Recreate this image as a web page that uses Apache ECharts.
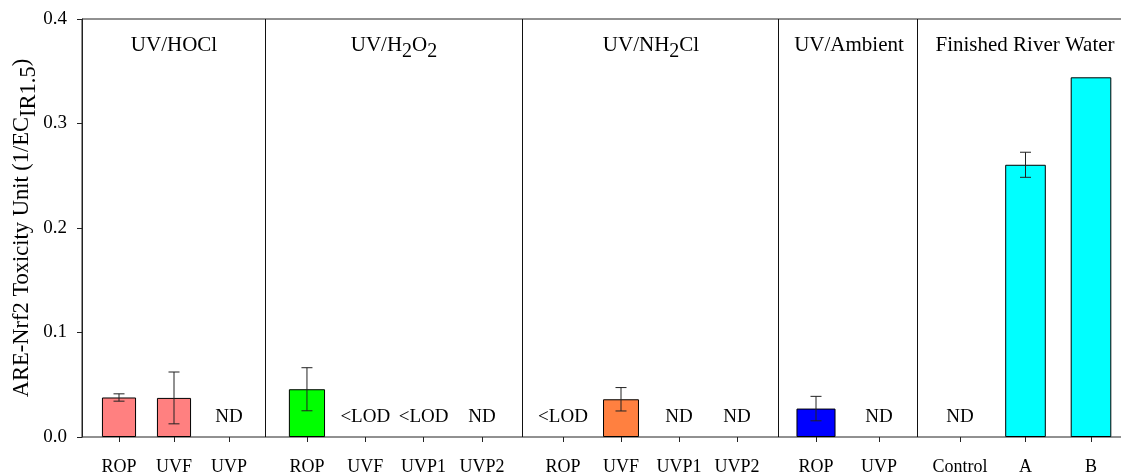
<!DOCTYPE html>
<html>
<head>
<meta charset="utf-8">
<script src="https://cdn.jsdelivr.net/npm/echarts@6/dist/echarts.min.js"></script>
<style>
html,body{margin:0;padding:0;background:#fff;}
#c{width:1121px;height:473px;}
</style>
</head>
<body>
<div id="c"></div>
<script>
// ---- data ----
const groupTitles = ['{m|UV/HOCl}', '{m|UV/H}{s|2}{m|O}{s|2}', '{m|UV/NH}{s|2}{m|Cl}', '{m|UV/Ambient}', '{m|Finished River Water}'];
const cats1 = ['ROP', 'UVF', 'UVP'];
const cats2 = ['ROP', 'UVF', 'UVP1', 'UVP2'];
const cats3 = ['ROP', 'UVF', 'UVP1', 'UVP2'];
const cats4 = ['ROP', 'UVP'];
const cats5 = ['Control', 'A', 'B'];
const vals1 = [0.0378, 0.0374, null];
const vals2 = [0.0457, null, null, null];
const vals3 = [null, 0.0361, null, null];
const vals4 = [0.0272, null];
const vals5 = [null, 0.2605, 0.3442];
const errs1 = [0.0035, 0.0248, null];
const errs2 = [0.0206, null, null, null];
const errs3 = [null, 0.0112, null, null];
const errs4 = [0.0117, null];
const errs5 = [null, 0.012, null];
const notes1 = ['', '', 'ND'];
const notes2 = ['', '<LOD', '<LOD', 'ND'];
const notes3 = ['<LOD', '', 'ND', 'ND'];
const notes4 = ['', 'ND'];
const notes5 = ['ND', '', ''];
const yTicks = [0, 0.1, 0.2, 0.3, 0.4];
const yTitle = '{m|ARE-Nrf2 Toxicity Unit (1/EC}{s|IR1.5}{m|)}';

// ---- layout / style ----
const FONT = 'Liberation Serif';
const colors = ['#FF8080', '#00FF00', '#FF8040', '#0000FF', '#00FFFF'];
const panels = [
  {cats: cats1, vals: vals1, errs: errs1, notes: notes1, left: 91.5, width: 165, tx: 174},
  {cats: cats2, vals: vals2, errs: errs2, notes: notes2, left: 277.8, width: 233.3, tx: 394},
  {cats: cats3, vals: vals3, errs: errs3, notes: notes3, left: 534, width: 232, tx: 651},
  {cats: cats4, vals: vals4, errs: errs4, notes: notes4, left: 784.5, width: 126, tx: 849},
  {cats: cats5, vals: vals5, errs: errs5, notes: notes5, left: 927.25, width: 196.5, tx: 1025}
];
const dividers = [265.5, 522.5, 778.5, 917.5];
const TOP = 19, BOTTOM = 36;

const grid = [{left: 82, width: 1053, top: TOP, bottom: BOTTOM, show: true, borderColor: '#222', borderWidth: 1, backgroundColor: 'transparent', outerBoundsMode: 'none', containLabel: false}];
const xAxis = [{type: 'value', gridIndex: 0, show: false, min: 0, max: 1}];
const yAxis = [{
  type: 'value', gridIndex: 0, min: yTicks[0], max: yTicks[yTicks.length - 1], interval: yTicks[1] - yTicks[0],
  axisLine: {show: true, lineStyle: {color: '#222', width: 1}},
  axisTick: {show: true, inside: false, length: 5, lineStyle: {color: '#222'}},
  axisLabel: {formatter: v => v.toFixed(1), fontSize: 19, fontFamily: FONT, color: '#000', margin: 15},
  splitLine: {show: false},
  name: yTitle, nameLocation: 'middle', nameGap: 41, nameRotate: 90, nameMoveOverlap: false,
  nameTextStyle: {
    rich: {
      m: {fontSize: 22.5, fontFamily: FONT, color: '#000', verticalAlign: 'top'},
      s: {fontSize: 22.5, fontFamily: FONT, color: '#000', padding: [7, 0, 0, 0]}
    }
  }
}];
const series = [];

panels.forEach((p, k) => {
  const gi = k + 1;
  grid.push({left: p.left, width: p.width, top: TOP, bottom: BOTTOM, outerBoundsMode: 'none', containLabel: false});
  xAxis.push({
    type: 'category', gridIndex: gi, data: p.cats,
    axisLine: {show: false},
    axisTick: {show: true, alignWithLabel: true, interval: 0, length: 5, lineStyle: {color: '#222'}},
    axisLabel: {interval: 0, fontSize: 18, fontFamily: FONT, color: '#000', margin: 21}
  });
  yAxis.push({type: 'value', gridIndex: gi, min: 0, max: 0.4, interval: 0.1, show: false, splitLine: {show: false}});
  series.push({
    type: 'bar', xAxisIndex: gi, yAxisIndex: gi, data: p.vals, barWidth: '62%', z: 2,
    itemStyle: {color: colors[k], borderColor: '#000', borderWidth: 1},
    silent: true, animation: false
  });
  const errData = [];
  p.errs.forEach((e, i) => { if (e != null && p.vals[i] != null) errData.push([i, p.vals[i], e]); });
  series.push({
    type: 'custom', xAxisIndex: gi, yAxisIndex: gi, data: errData, animation: false, silent: true, z: 5,
    renderItem: (params, api) => {
      const x = api.value(0), v = api.value(1), e = api.value(2);
      const hi = api.coord([x, v + e]), lo = api.coord([x, v - e]);
      const w = 5.5;
      const ls = {stroke: '#222', lineWidth: 1};
      return {type: 'group', children: [
        {type: 'line', shape: {x1: hi[0], y1: hi[1], x2: lo[0], y2: lo[1]}, style: ls},
        {type: 'line', shape: {x1: hi[0] - w, y1: hi[1], x2: hi[0] + w, y2: hi[1]}, style: ls},
        {type: 'line', shape: {x1: lo[0] - w, y1: lo[1], x2: lo[0] + w, y2: lo[1]}, style: ls}
      ]};
    }
  });
  const noteData = [];
  p.notes.forEach((n, i) => { if (n) noteData.push([i, 0, i]); });
  series.push({
    type: 'custom', xAxisIndex: gi, yAxisIndex: gi, data: noteData, animation: false, silent: true, z: 5,
    renderItem: (params, api) => {
      const i = api.value(2);
      const c = api.coord([api.value(0), 0]);
      return {type: 'text', x: c[0], y: c[1] - 20,
        style: {text: p.notes[i], fontSize: 19, fontFamily: FONT, fill: '#000', align: 'center', verticalAlign: 'middle'}};
    }
  });
});

const graphic = [];
dividers.forEach(x => {
  graphic.push({type: 'line', shape: {x1: x, y1: TOP, x2: x, y2: 473 - BOTTOM}, style: {stroke: '#111', lineWidth: 1}, silent: true});
});
panels.forEach((p, k) => {
  graphic.push({type: 'text', x: p.tx, y: 35, silent: true,
    style: {text: groupTitles[k], align: 'center', verticalAlign: 'top',
      rich: {
        m: {fontSize: 21, fontFamily: FONT, fill: '#000', verticalAlign: 'top'},
        s: {fontSize: 20, fontFamily: FONT, fill: '#000', padding: [7, 0, 0, 0]}
      }}});
});

const chart = echarts.init(document.getElementById('c'), null, {renderer: 'canvas'});
chart.setOption({
  animation: false,
  backgroundColor: '#fff',
  grid, xAxis, yAxis, series, graphic
});
</script>
</body>
</html>
